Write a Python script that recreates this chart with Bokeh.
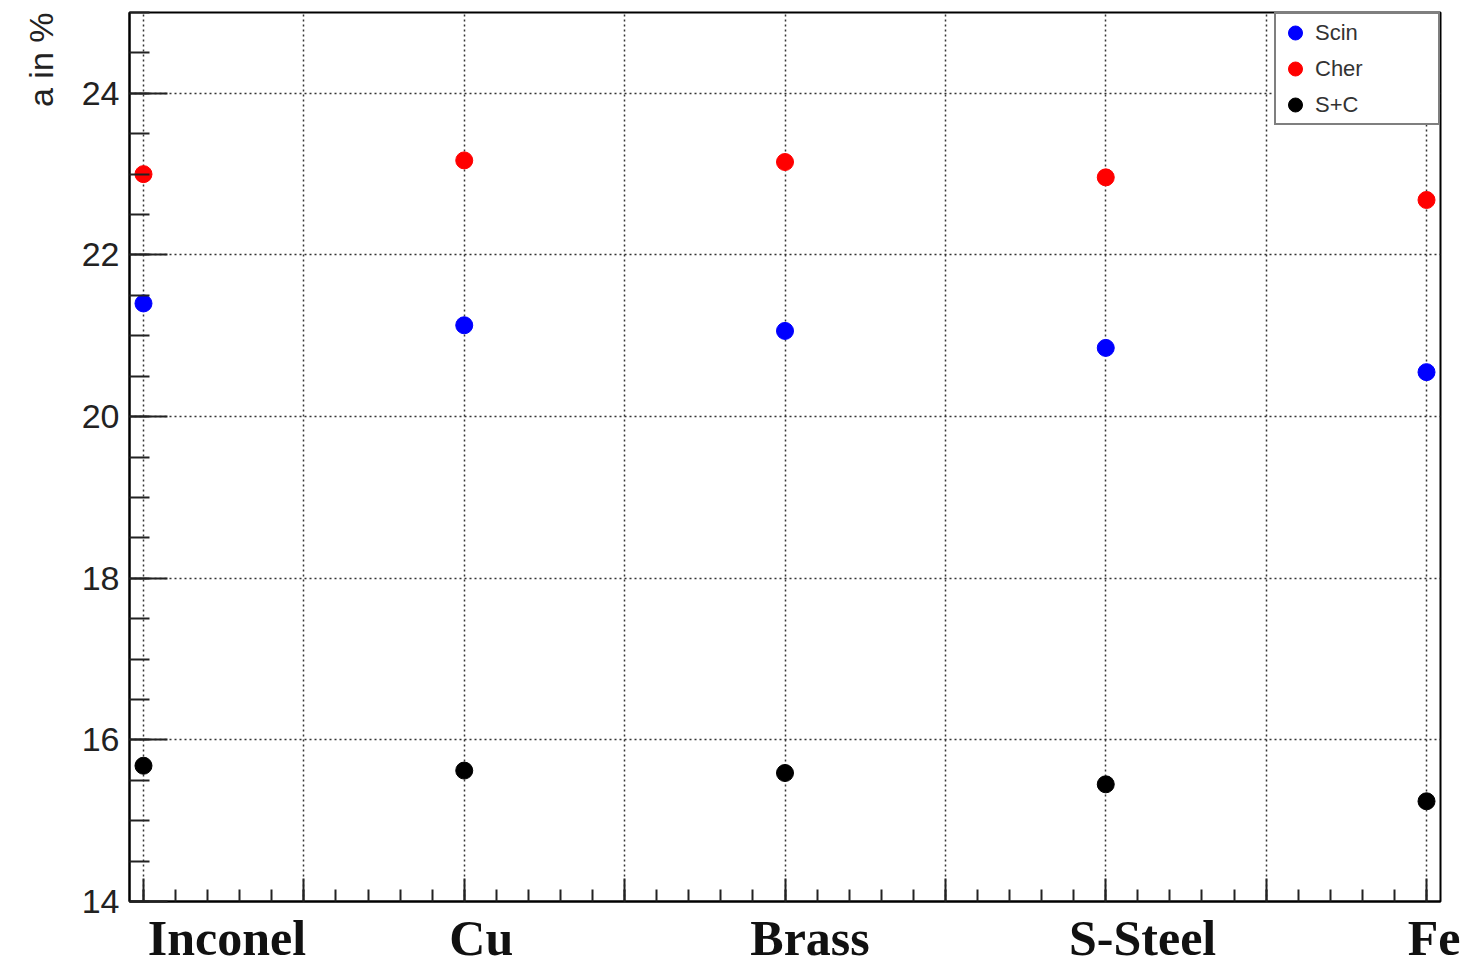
from bokeh.plotting import figure
from bokeh.models import Range1d, FixedTicker, Title, LinearAxis
from bokeh.embed import file_html
from bokeh.resources import INLINE

# ---- data ----
materials = ["Inconel", "Cu", "Brass", "S-Steel", "Fe"]
scin = [21.40, 21.13, 21.06, 20.85, 20.55]
cher = [23.00, 23.17, 23.15, 22.96, 22.68]
s_plus_c = [15.68, 15.62, 15.59, 15.45, 15.24]
y_ticks = [14, 16, 18, 20, 22, 24]
y_title = "a in %"

idx = list(range(len(materials)))

p = figure(width=1460, height=968,
           x_range=Range1d(-0.0436, 4.0436), y_range=Range1d(14, 25),
           output_backend="svg", toolbar_location=None,
           min_border_left=128, min_border_right=20,
           min_border_top=12, min_border_bottom=66)
p.background_fill_color = "white"
p.border_fill_color = "white"
p.outline_line_color = "black"
p.outline_line_width = 2

# x axis: grid every 0.5, minor ticks every 0.1, ticks drawn inward
xmaj = [i * 0.5 for i in range(9)]
xmin = [i * 0.1 for i in range(41)]
p.xaxis.ticker = FixedTicker(ticks=xmaj, minor_ticks=xmin)
p.xaxis.major_tick_in = 23
p.xaxis.major_tick_out = 0
p.xaxis.minor_tick_in = 12
p.xaxis.minor_tick_out = 0
p.xaxis.major_label_text_font_size = "0px"
p.xaxis.major_label_standoff = 0
p.xaxis.axis_line_width = 2
p.xaxis.major_tick_line_width = 2
p.xaxis.minor_tick_line_width = 2
p.xaxis.major_tick_line_color = "#222"
p.xaxis.minor_tick_line_color = "#222"

ymin = [14 + i * 0.5 for i in range(23)]
p.yaxis.ticker = FixedTicker(ticks=y_ticks, minor_ticks=ymin)
p.yaxis.major_tick_in = 38
p.yaxis.major_tick_out = 0
p.yaxis.minor_tick_in = 20
p.yaxis.minor_tick_out = 0
p.yaxis.axis_line_width = 2
p.yaxis.major_tick_line_width = 2
p.yaxis.minor_tick_line_width = 2
p.yaxis.major_tick_line_color = "#222"
p.yaxis.minor_tick_line_color = "#222"
p.yaxis.major_label_standoff = 10
p.yaxis.major_label_text_font = "Liberation Sans"
p.yaxis.major_label_text_font_size = "34px"
p.yaxis.major_label_text_color = "#222"

for g in (p.xgrid, p.ygrid):
    g.grid_line_color = "#333"
    g.grid_line_width = 1.5
    g.grid_line_dash = "2 3"

p.scatter(idx, scin, size=17, color="#0000ff", legend_label="Scin")
p.scatter(idx, cher, size=17, color="#ff0000", legend_label="Cher")
p.scatter(idx, s_plus_c, size=17, color="black", legend_label="S+C")

lg = p.legend[0]
lg.location = "top_right"
lg.margin = 0
lg.padding = 1
lg.spacing = 1
lg.label_height = 35
lg.glyph_height = 35
lg.glyph_width = 36
lg.label_standoff = 2
lg.label_width = 122
lg.border_line_color = "black"
lg.border_line_width = 2
lg.label_text_font = "Liberation Sans"
lg.label_text_font_size = "22px"
lg.label_text_color = "#333"
lg.background_fill_alpha = 1.0

# y title at the top of the left side
p.add_layout(Title(text=y_title, align="right", standoff=38,
                   text_font="Liberation Sans", text_font_size="34px",
                   text_font_style="normal", text_color="#222"), "left")

# material names: a second, tick-less axis below
offsets = [0.26, 0.053, 0.078, 0.115, 0.03]
label_pos = [i + o for i, o in zip(idx, offsets)]
name_axis = LinearAxis(ticker=FixedTicker(ticks=label_pos, minor_ticks=[]),
                       major_label_overrides={pos: name for pos, name in zip(label_pos, materials)})
name_axis.axis_line_color = None
name_axis.major_tick_line_color = None
name_axis.minor_tick_line_color = None
name_axis.major_tick_in = 0
name_axis.major_tick_out = 0
name_axis.major_label_standoff = 8
name_axis.major_label_text_font = "Liberation Serif"
name_axis.major_label_text_font_style = "bold"
name_axis.major_label_text_font_size = "50px"
name_axis.major_label_text_color = "#111"
p.add_layout(name_axis, "below")

open("out.html", "w").write(file_html(p, INLINE))
